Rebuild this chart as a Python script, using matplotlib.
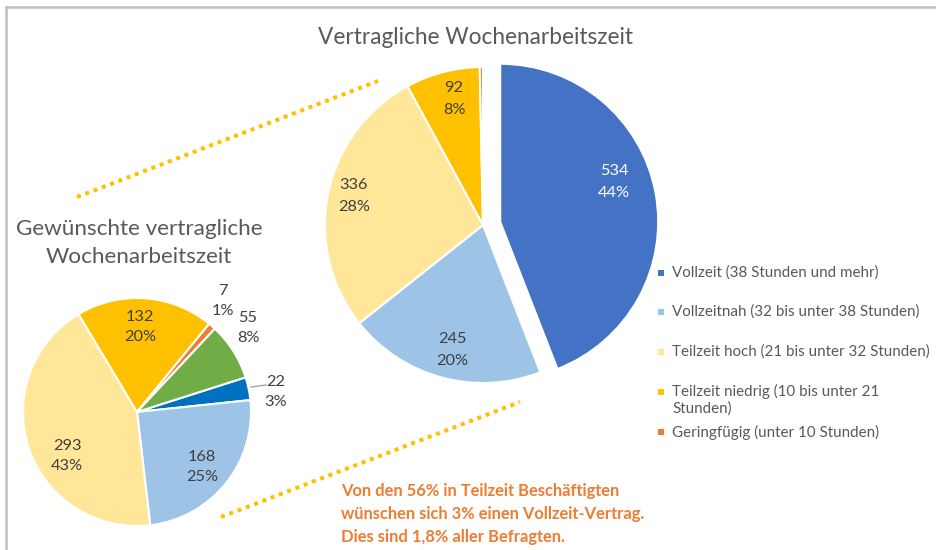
import matplotlib
matplotlib.use("Agg")
import matplotlib.pyplot as plt
from matplotlib.patches import Rectangle

W, H = 936, 550
FONT = "Lato"
GREY = "#595959"

# Vertragliche Wochenarbeitszeit (ist)
contract_labels = [
    "Vollzeit (38 Stunden und mehr)",
    "Vollzeitnah (32 bis unter 38 Stunden)",
    "Teilzeit hoch (21 bis unter 32 Stunden)",
    "Teilzeit niedrig (10 bis unter 21\nStunden)",
    "Geringfügig (unter 10 Stunden)",
]
contract_values = [534, 245, 336, 92, 4]
contract_pct = ["44%", "20%", "28%", "8%", ""]
contract_colors = ["#4472C4", "#9DC3E6", "#FFE699", "#FFC000", "#ED7D31"]

# Gewünschte vertragliche Wochenarbeitszeit (Teilzeit-Beschäftigte)
wish_values = [22, 168, 293, 132, 7, 55]
wish_pct = ["3%", "25%", "43%", "20%", "1%", "8%"]
wish_colors = ["#0070C0", "#9DC3E6", "#FFE699", "#FFC000", "#ED7D31", "#70AD47"]

note = ("Von den 56% in Teilzeit Beschäftigten\n"
        "wünschen sich 3% einen Vollzeit-Vertrag.\n"
        "Dies sind 1,8% aller Befragten.")

# label anchor points in pixel coords (x, y from top)
contract_label_pos = [(614, 182), (452, 350), (354, 196), (454, 99), None]
wish_label_pos = [(276, 392), (202, 467), (67, 456), (140, 327), (223, 301), (248, 328)]


def py(y):
    return H - y


fig = plt.figure(figsize=(W / 100, H / 100), dpi=100)
ax = fig.add_axes([0, 0, 1, 1])

# big pie (explode is in data units = pixels here)
ax.pie(contract_values, colors=contract_colors, startangle=90, counterclock=False,
       center=(483, py(225)), radius=158, explode=[17.5, 0, 0, 0, 0],
       wedgeprops=dict(edgecolor="white", linewidth=1.5), frame=True)
for i, pos in enumerate(contract_label_pos):
    if pos is None:
        continue
    col = "white" if i == 0 else "#404040"
    ax.text(pos[0], py(pos[1]), f"{contract_values[i]}\n{contract_pct[i]}",
            ha="center", va="center", fontsize=11.8, color=col, family=FONT,
            linespacing=1.7)

# small pie
ax.pie(wish_values, colors=wish_colors, startangle=17.7, counterclock=False,
       center=(137, py(412)), radius=114,
       wedgeprops=dict(edgecolor="white", linewidth=1.5), frame=True)
for i, pos in enumerate(wish_label_pos):
    ax.text(pos[0], py(pos[1]), f"{wish_values[i]}\n{wish_pct[i]}",
            ha="center", va="center", fontsize=11.8, color="#404040", family=FONT,
            linespacing=1.55)
ax.plot([251, 266], [py(387), py(385)], color="#A6A6A6", lw=1)

# titles
ax.text(475, py(37), "Vertragliche Wochenarbeitszeit", ha="center", va="center",
        fontsize=16.3, color=GREY, family=FONT)
ax.text(139, py(243), "Gewünschte vertragliche\nWochenarbeitszeit", ha="center",
        va="center", fontsize=16.2, color=GREY, family=FONT, linespacing=1.5)

# legend
legend_y = [273, 312, 352, 392, 432]
for lab, col, y in zip(contract_labels, contract_colors, legend_y):
    ax.add_patch(Rectangle((658, py(y) - 3), 6, 6, color=col, lw=0))
    ax.text(672, py(y) + (8 if "\n" in lab else 0), lab, ha="left",
            va="top" if "\n" in lab else "center",
            fontsize=10.9, color=GREY, family=FONT, linespacing=1.2)

# zoom connectors
dot = dict(color="#FFC000", lw=2.9, linestyle=(0, (1, 1.2)))
ax.plot([77, 378], [py(197), py(81)], **dot)
ax.plot([221, 520], [py(517), py(402)], **dot)

ax.text(341, py(514), note, ha="left", va="center", fontsize=11.9, fontweight="bold",
        color="#ED7D31", family=FONT, linespacing=1.55)

# frame
ax.plot([6, 6], [0, py(7)], color="#BFBFBF", lw=1.8)
ax.plot([6, W], [py(7), py(7)], color="#BFBFBF", lw=1.8)

ax.set_xlim(0, W)
ax.set_ylim(0, H)
ax.set_aspect("auto")
ax.axis("off")

fig.savefig("out.png", dpi=100)
